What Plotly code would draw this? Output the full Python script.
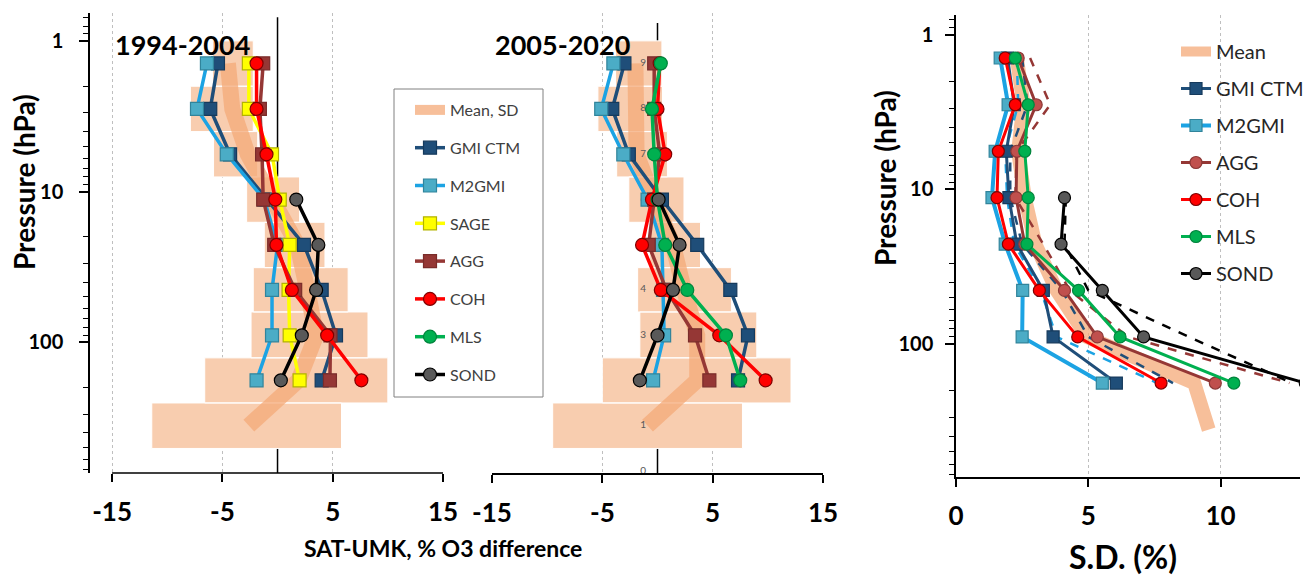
import plotly.graph_objects as go

W, H = 1307, 575
FONT = "Lato, Open Sans, sans-serif"

# Umkehr layers 9 (top) .. 2, pressure at layer centre (hPa)
LAYERS = [9, 8, 7, 6, 5, 4, 3, 2]
PRES = [1.41, 2.83, 5.66, 11.3, 22.6, 45, 90, 179]
# mean profile reaches down to layer 1
MEAN_PRES = [1.41, 2.83, 5.66, 11.3, 22.6, 45, 90, 179, 358]
# SD box layer boundaries (hPa), layers 9..1
BOX_TOP = [1, 2, 4, 8, 16, 32, 63, 127, 253]
BOX_BOT = [2, 4, 8, 16, 32, 63, 127, 253, 507]
# layer number labels in the 2005-2020 panel
LABEL_TEXT = ["9", "8", "7", "6", "5", "4", "3", "2", "1", "0"]
LABEL_PRES = [1.41, 2.83, 5.66, 11.3, 22.6, 45, 90, 179, 358, 717]

# 1994-2004, SAT-UMK % difference
gmi_a = [-5.4, -6.1, -4.3, -1.0, 2.4, 4.0, 5.3, 4.0]
m2gmi_a = [-6.4, -7.3, -4.6, -1.2, 0.0, -0.5, -0.5, -1.9]
sage_a = [-2.6, -2.6, -0.5, 0.2, 1.1, 1.0, 1.1, 2.0]
agg_a = [-1.3, -1.6, -1.4, -1.3, -0.3, 1.6, 4.8, 4.75]
coh_a = [-1.9, -1.9, -1.0, -0.2, -0.1, 1.3, 4.5, 7.6]
sond_a = [None, None, None, 1.7, 3.7, 3.5, 2.2, 0.3]
mean_a = [-4.5, -4.1, -2.7, -0.4, 1.8, 2.7, 3.5, 1.9, -2.6]
sd_lo_a = [-5.9, -7.9, -5.8, -2.8, -1.2, -2.2, -2.4, -6.6, -11.4]
sd_hi_a = [-2.2, -2.2, -1.8, 2.0, 4.3, 6.4, 8.2, 10.0, 5.8]

# 2005-2020
gmi_b = [-3.0, -4.1, -2.6, 0.4, 3.6, 6.6, 8.2, 7.3]
m2gmi_b = [-4.0, -5.1, -3.1, -0.9, 0.4, 0.5, 0.6, -0.4]
agg_b = [-0.3, -0.3, 0.2, -0.3, -0.8, 0.8, 3.4, 4.7]
coh_b = [0.2, 0.0, 0.7, -0.5, -1.4, 0.3, 5.6, 9.8]
mls_b = [0.3, -0.5, -0.3, 0.0, 0.7, 2.7, 6.2, 7.5]
sond_b = [None, None, None, 0.1, 2.0, 1.4, 0.0, -1.6]
mean_b = [-2.0, -1.9, -1.9, -0.3, 1.4, 2.4, 3.6, 3.6, -0.9]
sd_lo_b = [-3.8, -5.4, -3.7, -2.6, -0.7, -1.8, -1.6, -5.0, -9.5]
sd_hi_b = [0.4, 0.45, 0.9, 2.4, 3.9, 6.7, 9.0, 12.1, 7.7]

# S.D. (%) -- solid (with markers)
gmi_sd = [1.95, 2.2, 1.9, 2.0, 2.3, 3.3, 3.67, 6.06]
m2gmi_sd = [1.67, 1.97, 1.48, 1.36, 1.86, 2.52, 2.5, 5.53]
agg_sd = [2.35, 3.03, 2.3, 2.27, 2.6, 4.1, 5.34, 9.8]
coh_sd = [1.86, 2.24, 1.6, 1.55, 1.98, 3.15, 4.6, 7.75]
mls_sd = [2.24, 2.73, 2.6, 2.73, 2.68, 4.63, 6.2, 10.5]
sond_sd = [None, None, None, 4.1, 3.97, 5.53, 7.09, 13.2]
mean_sd = [2.3, 2.55, 2.35, 2.6, 3.0, 3.8, 4.95, 9.0, 9.55]
# S.D. (%) -- dashed
gmi_sd_d = [2.5, 2.7, 2.05, 2.05, 2.5, 4.0, 5.0, 8.2]
m2gmi_sd_d = [2.3, 2.35, 1.86, 1.93, 2.2, 3.2, 3.8, 7.6]
agg_sd_d = [2.8, 3.56, 2.3, 2.24, 3.3, 4.3, 6.5, 12.6]
sond_sd_d = [None, None, None, 4.15, 4.1, 5.0, 8.8, 12.7]

C_MEAN = "rgba(244,170,120,0.75)"
C_BOX = "#F8CDAF"
STY = {
    "GMI CTM": dict(line="#1F4E79", fill="#1F4E79", edge="#163A5C", symbol="square"),
    "M2GMI": dict(line="#1CA3E3", fill="#4BACC6", edge="#31849B", symbol="square"),
    "SAGE": dict(line="#FFFF00", fill="#FFFF00", edge="#B3B300", symbol="square"),
    "AGG": dict(line="#953735", fill="#953735", edge="#7A2C2A", symbol="square"),
    "COH": dict(line="#FF0000", fill="#FF0000", edge="#800000", symbol="circle"),
    "MLS": dict(line="#00B050", fill="#00B050", edge="#00843C", symbol="circle"),
    "SOND": dict(line="#000000", fill="#595959", edge="#000000", symbol="circle"),
}
RANK = {"GMI CTM": 2, "M2GMI": 3, "SAGE": 4, "AGG": 5, "COH": 6, "MLS": 7, "SOND": 8}


def px(x):
    return x / W


def py(y):
    return 1 - y / H


fig = go.Figure()


def boxes(lo, hi, xa, ya):
    xs, ys = [], []
    for a, b, t, u in zip(lo, hi, BOX_TOP, BOX_BOT):
        xs += [a, b, b, a, a, None]
        ys += [t, t, u, u, t, None]
    fig.add_trace(go.Scatter(x=xs, y=ys, fill="toself", fillcolor=C_BOX, mode="lines",
                             line=dict(color="white", width=1), showlegend=False,
                             hoverinfo="skip", xaxis=xa, yaxis=ya))


def series(name, vals, xa, ya, show, legend="legend", size=13, width=3.5):
    s = STY[name]
    fig.add_trace(go.Scatter(
        x=vals, y=PRES, name=name, mode="lines+markers", xaxis=xa, yaxis=ya,
        line=dict(color=s["line"], width=width),
        marker=dict(symbol=s["symbol"], size=size, color=s["fill"],
                    line=dict(color=s["edge"], width=1.2)),
        showlegend=show, legend=legend, legendgroup=legend + name,
        legendrank=RANK[name]))


# ---- 1994-2004 panel
boxes(sd_lo_a, sd_hi_a, "x", "y")
fig.add_trace(go.Scatter(x=mean_a, y=MEAN_PRES, name="Mean, SD", mode="lines",
                         line=dict(color=C_MEAN, width=16), xaxis="x", yaxis="y",
                         legend="legend", legendgroup="legendmean", legendrank=1))
series("GMI CTM", gmi_a, "x", "y", True)
series("M2GMI", m2gmi_a, "x", "y", True)
series("SAGE", sage_a, "x", "y", True)
series("AGG", agg_a, "x", "y", True)
series("COH", coh_a, "x", "y", True)
series("SOND", sond_a, "x", "y", True)

# ---- 2005-2020 panel
boxes(sd_lo_b, sd_hi_b, "x2", "y2")
fig.add_trace(go.Scatter(x=mean_b, y=MEAN_PRES, mode="lines", showlegend=False,
                         line=dict(color=C_MEAN, width=16), xaxis="x2", yaxis="y2"))
fig.add_trace(go.Scatter(x=[-1.3] * len(LABEL_TEXT), y=LABEL_PRES, text=LABEL_TEXT,
                         mode="text", textfont=dict(size=10, color="#595959", family=FONT),
                         showlegend=False, hoverinfo="skip", xaxis="x2", yaxis="y2"))
series("GMI CTM", gmi_b, "x2", "y2", False)
series("M2GMI", m2gmi_b, "x2", "y2", False)
series("AGG", agg_b, "x2", "y2", False)
series("COH", coh_b, "x2", "y2", False)
series("MLS", mls_b, "x2", "y2", True)
series("SOND", sond_b, "x2", "y2", False)

# ---- S.D. panel
fig.add_trace(go.Scatter(x=mean_sd, y=MEAN_PRES, name="Mean", mode="lines",
                         line=dict(color=C_MEAN, width=14), xaxis="x3", yaxis="y3",
                         legend="legend2", legendgroup="legend2mean", legendrank=1))
for name, vals in [("GMI CTM", gmi_sd_d), ("M2GMI", m2gmi_sd_d), ("AGG", agg_sd_d),
                   ("SOND", sond_sd_d)]:
    fig.add_trace(go.Scatter(x=vals, y=PRES, mode="lines", showlegend=False,
                             line=dict(color=STY[name]["line"], width=2.5, dash="dash"),
                             xaxis="x3", yaxis="y3"))
STY["AGG"] = dict(line="#953735", fill="#C0504D", edge="#8C3836", symbol="circle")
series("GMI CTM", gmi_sd, "x3", "y3", True, "legend2", 12, 3)
series("M2GMI", m2gmi_sd, "x3", "y3", True, "legend2", 12, 4)
series("AGG", agg_sd, "x3", "y3", True, "legend2", 12, 3)
series("COH", coh_sd, "x3", "y3", True, "legend2", 12, 3)
series("MLS", mls_sd, "x3", "y3", True, "legend2", 12, 3)
series("SOND", sond_sd, "x3", "y3", True, "legend2", 12, 3)

# ---- axes
minor_p = [m * d for d in (0.1, 1, 10, 100) for m in range(2, 10)]
minor_p = [v for v in minor_p if 0.65 < v < 760 and v not in (1, 10, 100)]
tickfont_x = dict(family=FONT, size=26, color="black", weight="bold")
tickfont_y = dict(family=FONT, size=20, color="black", weight="bold")

xcommon = dict(showgrid=True, griddash="dot", gridcolor="#BFBFBF", gridwidth=1,
               zeroline=False, ticks="outside", ticklen=8, tickwidth=1.5,
               tickcolor="black", tickfont=tickfont_x, automargin=False)
ycommon = dict(type="log", tickvals=[1, 10, 100], ticktext=["1", "10", "100"],
               ticks="outside", ticklen=9, tickwidth=1.5, tickcolor="black",
               minor=dict(tickvals=minor_p, ticks="outside", ticklen=5, tickwidth=1,
                          tickcolor="black"),
               showgrid=False, zeroline=False, showline=True, linecolor="black",
               linewidth=1.5, tickfont=tickfont_y, automargin=False)

fig.update_layout(
    xaxis=dict(domain=[px(90), px(443)], range=[-17, 15], tickvals=[-15, -5, 5, 15],
               ticktext=["-15", "-5", "5", "15"], anchor="y", showline=False,
               ticklabelstandoff=8, **xcommon),
    yaxis=dict(domain=[py(473), py(13)], range=[2.868, -0.185], anchor="x",
               ticklabelstandoff=12, **ycommon),
    xaxis2=dict(domain=[px(492), px(823)], range=[-15, 15], tickvals=[-15, -5, 5, 15],
                ticktext=["-15", "-5", "5", "15"], anchor="y2", showline=True,
                linecolor="black", linewidth=1.5, ticklabelstandoff=8, **xcommon),
    yaxis2=dict(domain=[py(473), py(13)], type="log", range=[2.868, -0.185],
                matches="y", anchor="x2", showticklabels=False, showline=False,
                showgrid=False, zeroline=False, ticks="", automargin=False),
    xaxis3=dict(domain=[px(956), px(1300)], range=[0, 13], tickvals=[0, 5, 10],
                anchor="y3", showline=True, linecolor="black", linewidth=1.5,
                ticklabelstandoff=7, **xcommon),
    yaxis3=dict(domain=[py(477), py(15)], range=[2.861, -0.129], anchor="x3",
                ticklabelstandoff=8, **ycommon),
    width=W, height=H, margin=dict(l=0, r=0, t=0, b=0, autoexpand=False),
    paper_bgcolor="white", plot_bgcolor="rgba(0,0,0,0)",
    font=dict(family=FONT, color="black"),
    legend=dict(x=px(410), y=py(93), xanchor="left", yanchor="top",
                borderwidth=0, bgcolor="rgba(0,0,0,0)",
                font=dict(size=16, color="#404040", family=FONT),
                tracegroupgap=14, itemwidth=30),
    legend2=dict(x=px(1176), y=py(32), xanchor="left", yanchor="top",
                 bgcolor="rgba(0,0,0,0)", borderwidth=0,
                 font=dict(size=20, color="#262626", family=FONT),
                 tracegroupgap=8, itemwidth=30),
)

# zero lines (drawn under the SD boxes), the left x-axis line, the legend frame
fig.add_shape(type="line", xref="x", yref="y domain", x0=0, x1=0, y0=0, y1=0.991,
              line=dict(color="black", width=1.5), layer="below")
fig.add_shape(type="line", xref="x2", yref="y2 domain", x0=0, x1=0, y0=0, y1=0.978,
              line=dict(color="black", width=1.5), layer="below")
fig.add_shape(type="line", xref="x", yref="y domain", x0=-15, x1=15, y0=0, y1=0,
              line=dict(color="black", width=1.5))
fig.add_shape(type="rect", xref="paper", yref="paper", x0=px(394), x1=px(543),
              y0=py(397), y1=py(89), line=dict(color="#808080", width=1),
              fillcolor="white", layer="above")

bold = dict(family=FONT, color="black", weight="bold")
ann = dict(xref="paper", yref="paper", showarrow=False, xanchor="center", yanchor="middle")
fig.add_annotation(text="1994-2004", x=px(182), y=py(44), font=dict(size=27, **bold), **ann)
fig.add_annotation(text="2005-2020", x=px(562), y=py(44), font=dict(size=27, **bold), **ann)
fig.add_annotation(text="Pressure (hPa)", x=px(24), y=py(182), textangle=-90,
                   font=dict(size=28, **bold), **ann)
fig.add_annotation(text="Pressure (hPa)", x=px(885), y=py(178), textangle=-90,
                   font=dict(size=28, **bold), **ann)
fig.add_annotation(text="SAT-UMK, % O3 difference", x=px(443), y=py(548),
                   font=dict(size=23, **bold), **ann)
fig.add_annotation(text="S.D. (%)", x=px(1123), y=py(556), font=dict(size=32, **bold), **ann)

fig.write_html("out.html", config={"displayModeBar": False},
               post_script="document.body.style.margin='0px';")
